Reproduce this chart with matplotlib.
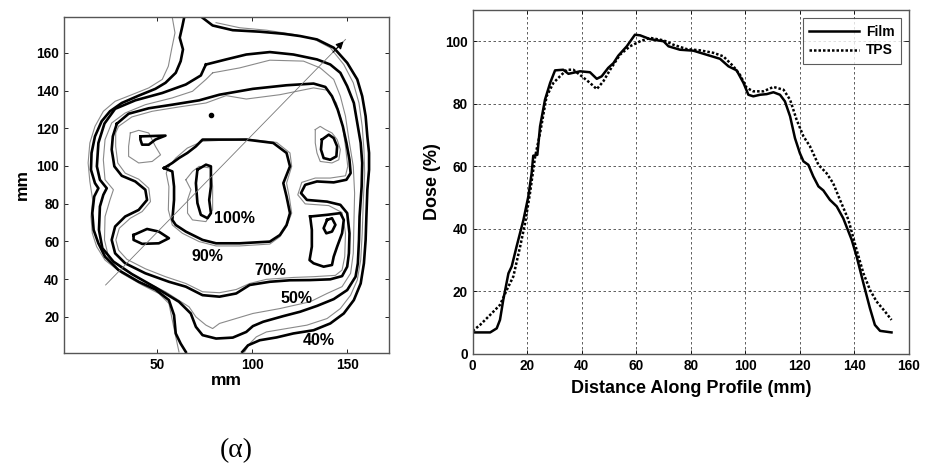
import numpy as np
import matplotlib
matplotlib.use("Agg")
import matplotlib.pyplot as plt

plt.rcParams['font.family'] = ['Liberation Sans', 'DejaVu Sans']
plt.rcParams['font.weight'] = 'bold'
plt.rcParams['axes.labelweight'] = 'bold'

# ---- dose profile along the arrow (right panel) ----
film_dist = [0, 6.4, 8.8, 10, 11.2, 13.1, 14.3, 16.1, 18.6, 20.4, 21.6, 22.2, 23.7, 24.7, 26.5,
             28.4, 30.2, 33.2, 35.1, 39.4, 43, 45.5, 47.3, 49.7, 51.6, 53.4, 56.5, 59.5, 61.4, 65,
             70, 71.8, 76, 80.9, 85.8, 90.7, 93.8, 96.8, 99.3, 101.1, 102.9, 105.4, 107.8, 110.3,
             112.7, 114.5, 116.4, 118.2, 120, 121.3, 123.1, 124.9, 126.8, 128.6, 131, 133.5, 135.9,
             139, 140.8, 143.3, 145.7, 147.5, 149.4, 153.6]
film_dose = [6.9, 6.9, 8.2, 10.9, 17.3, 25.8, 28, 34.4, 42.9, 50.4, 57.8, 63.4, 63.7, 72.8, 81.3,
             86.7, 90.7, 90.9, 89.6, 90.4, 90.1, 88, 88.8, 91.5, 93, 95.4, 98.4, 102.1, 101.9, 100.7,
             100, 98.4, 97.3, 97, 95.7, 94.4, 92, 90.7, 86.7, 82.9, 82.4, 82.9, 83.1, 83.7,
             82.9, 80.8, 76, 69, 64.2, 61.6, 60.5, 56.8, 53.6, 52.3, 49.3, 47.2, 43.4,
             36.5, 31.2, 22.6, 14.6, 9.3, 7.4, 6.9]
tps_dist = [0, 2.7, 6.4, 10, 12.5, 14.9, 17.4, 19.2, 21, 22.9, 24.7, 27.1, 29.6, 32, 34.5, 36.9,
            40, 43, 45.5, 47.9, 50.4, 54, 57.7, 61.4, 65, 70, 73.6, 78.5, 83.4, 88.3, 91.9, 95.6,
            98, 100.5, 102.9, 106.6, 110.3, 114, 116.4, 118.8, 121.3, 123.7, 126.8, 129.8, 132.2,
            134.7, 137.8, 140.8, 143.3, 145.7, 148.1, 151.2, 153.6]
tps_dose = [7.4, 9.3, 12.5, 15.7, 20.5, 24.8, 34.4, 41.8, 51.4, 63.2, 70.6, 82.4, 86.7, 88.8, 90.9,
            90.9, 88.8, 86.7, 84.7, 87.2, 90.9, 95.7, 98.4, 100, 101.1, 100.3, 98.9, 97.5, 97.1,
            96.3, 95.2, 92, 89.3, 85.1, 84, 84, 85.4, 84.5, 81.3, 74.9, 69.6, 66.4, 60.5, 57.8,
            54.6, 49.3, 42.9, 33.3, 25.8, 20.5, 16.8, 13.6, 10.9]

# ---- isodose lines (mm), film = black, TPS = grey ----
film_40_left = np.array([(64.2, 178.6), (63.3, 174.2), (61.9, 168), (63.6, 161.8), (62.4, 155.6),
    (59.8, 149.4), (54.4, 144.1), (49.1, 140.9), (40.3, 137.3), (31.4, 133.4), (25.2, 129),
    (20.8, 123.7), (17.3, 115.7), (15.5, 106.9), (15.2, 98), (17.3, 90.9), (19.1, 88.2),
    (16.9, 83.8), (15.9, 75), (16.6, 66.1), (19.1, 59), (22.6, 51.9), (29.7, 44.8), (40.3, 38.6),
    (49.1, 34.5), (56.2, 28.9), (58.9, 20.9), (59.8, 11.2), (62.4, 5.8), (65.1, 1.4)])
film_40_right = np.array([(73.9, 178.6), (79.2, 174.5), (89.8, 172), (104, 171.2), (116.4, 170.1),
    (125.2, 168.9), (134.1, 167.1), (142.9, 162.7), (150, 154.7), (155.3, 145.9), (157.9, 137),
    (159.7, 126.4), (160.6, 115.7), (161.5, 106.9), (161.5, 98), (160.6, 87.4), (160.1, 73.2),
    (159.7, 60.8), (158.8, 48.4), (157.1, 37.7), (153.5, 28.9), (148.2, 21.8), (141.1, 16.5),
    (132.3, 12.9), (121.7, 11.2), (112.9, 9.1), (104, 7.6), (97.8, 4.9), (94.8, 1.4)])
film_50 = np.array([(75.7, 153.8), (86.3, 156.5), (96.9, 159.1), (109.3, 160.4), (121.7, 159.1),
    (134.1, 156.5), (141.1, 153.8), (146.4, 149.4), (150, 142.3), (153.5, 133.4), (155.3, 122.8),
    (157.1, 112.2), (157.9, 101.6), (157.6, 89.1), (156.5, 73.2), (156.2, 60.8), (155.6, 48.4),
    (154.4, 41.3), (150, 34.2), (142.9, 29.4), (134.1, 25.8), (125.2, 22.7), (116.4, 20.4),
    (105.8, 17.4), (100.4, 15.1), (96.9, 12), (89.8, 9), (81, 8.5), (73.9, 10.3), (70.4, 14.7),
    (67.7, 21.8), (61.5, 28), (49.1, 35.6), (36.7, 42.7), (27, 49.3), (21.2, 56.4), (19.4, 66.1),
    (19.9, 78.5), (21.7, 84.7), (23.5, 88.2), (19.9, 92.7), (18.3, 99.8), (19.1, 112.2),
    (22.3, 122.5), (27.9, 130.3), (38.5, 134.8), (52.7, 138.7), (65.1, 143.2), (73, 148),
    (74.8, 152), (75.7, 153.8)])
film_70 = np.array([(28.8, 122.4), (35, 127.7), (45.6, 130.6), (58, 132.5), (72.1, 134.8),
    (82.8, 137.8), (100.4, 140.9), (118.1, 142.8), (132.3, 143.7), (138.5, 141.9), (142, 137),
    (145, 129.9), (147.7, 121), (149.6, 112.2), (151.2, 103.3), (151.8, 96.2), (149.6, 92.7),
    (142.9, 91.3), (134.1, 91.8), (127.9, 90), (125.7, 85.6), (128.8, 82), (139.4, 81.1),
    (146.4, 79.4), (150, 75), (151.2, 64.3), (150.9, 53.7), (150, 46.6), (147.3, 41.6),
    (141.1, 39.9), (130.5, 39.5), (119.9, 39.4), (109.3, 38.6), (98.7, 36.9), (91.6, 32.4),
    (82.8, 30.7), (73.9, 31.5), (65.1, 36), (56.2, 38.6), (43.8, 43.1), (33.2, 48.4),
    (27.9, 53.7), (26.1, 60.8), (27.9, 67.9), (33.2, 73.2), (40.3, 76.7), (44.7, 82),
    (43.8, 87.4), (38.5, 91.8), (31.4, 94.8), (27.5, 99.8), (26.1, 108.7), (26.7, 115.7),
    (28.8, 122.4)])
film_90 = np.array([(53.6, 98.9), (58, 97.1), (58.9, 89.1), (58.9, 82), (58, 71.4), (59.8, 68.7),
    (65.1, 65.2), (73.9, 60.8), (81, 59), (93.4, 59), (109.3, 59.9), (114.6, 63.4), (118.1, 68.7),
    (119.9, 75), (118.1, 83.8), (116.4, 90.9), (119.9, 99.8), (118.1, 106.9), (111.1, 112.2),
    (96.9, 114), (73.9, 114), (70.4, 110.4), (65.9, 106.9), (61.5, 104.2), (58, 101.6),
    (53.6, 98.9)])
film_100 = np.array([(71.2, 98), (75.7, 100.7), (78.3, 99.8), (78.3, 89.1), (77.4, 82), (78.3, 75),
    (76.5, 72.3), (73, 74.1), (71.2, 80.3), (70.4, 90.9), (71.2, 98)])
film_islands = [
    np.array([(41.2, 115.7), (54.4, 116.1), (49.1, 114), (45.6, 111.3), (42.1, 111.3), (41.2, 114),
              (41.2, 115.7)]),
    np.array([(37.6, 63.4), (44.7, 66.6), (50.9, 65.2), (56.2, 61.7), (50.9, 59), (42.1, 58.7),
              (37.6, 60.8), (37.6, 63.4)]),
    np.array([(136.7, 114), (140.3, 116.6), (142.9, 114.8), (144.7, 110.4), (144.3, 105.1),
              (141.1, 103.3), (137.6, 104.2), (136.2, 108.7), (136.7, 114)]),
    np.array([(130.5, 73.2), (139.4, 74.1), (146.4, 75), (148.2, 71.4), (147.3, 64.3),
              (144.7, 57.2), (142.9, 51.9), (142, 47.5), (137.6, 46.6), (132.3, 48.4),
              (130.2, 50.1), (131.4, 57.2), (131.4, 66.1), (130.5, 73.2)]),
    np.array([(139.4, 71.4), (142, 72.3), (143.8, 68.8), (142, 65.2), (139, 64.3), (137.6, 67),
              (139.4, 71.4)]),
]
film_spot = (78.3, 127.2)

tps_40_left = np.array([(58, 178.6), (59.4, 170.6), (57.6, 161.8), (55.9, 152.9), (52.7, 145.9),
    (45.6, 141.4), (36.7, 137.8), (27.9, 134.3), (21.7, 129), (17.3, 121), (14.6, 112.2),
    (13.7, 101.6), (14.6, 91.8), (16.1, 82), (15.2, 73.2), (15.9, 64.3), (18.2, 57.2),
    (22.6, 50.1), (31.4, 43.1), (42.1, 36.9), (50.9, 32.4), (56.2, 27.1), (58, 18.2),
    (59.8, 9.4), (61.5, 1.4)])
tps_40_right = np.array([(81, 176), (93.4, 173.3), (107.5, 172), (121.7, 169.8), (132.3, 167.4),
    (141.1, 162.7), (148.2, 153.8), (153.2, 144.1), (156.2, 133.4), (157.9, 121), (158.8, 108.7),
    (159.2, 96.2), (158.5, 82), (157.9, 64.3), (157.1, 50.1), (155.3, 39.5), (151.8, 31.5),
    (146.4, 24.4), (139.4, 19.1), (128.8, 15.6), (118.1, 13.8), (107.5, 12), (102.2, 9.4),
    (98.7, 5.8), (96, 1.4)])
tps_50 = np.array([(79.2, 149.4), (93.4, 152), (109.3, 156.1), (127, 155.6), (135.8, 152),
    (142.9, 145.9), (146.4, 137), (149.1, 126.4), (150.9, 114), (153.2, 99.8), (153.9, 85.6),
    (153.5, 67.9), (153.2, 53.7), (151.8, 43.1), (147.3, 36), (139.4, 32.4), (130.5, 28),
    (114.6, 24.4), (100.4, 21.8), (82.8, 16.5), (79.2, 13.8), (75.7, 15.6), (70.4, 20),
    (66.8, 25.3), (54.4, 33.3), (42.1, 39.5), (31.4, 45.7), (24.4, 51.9), (22.3, 60.8),
    (22.6, 73.2), (25.2, 82), (27, 87.4), (22.6, 92.7), (21.7, 103.3), (22.6, 114),
    (26.1, 122.8), (33.2, 128.1), (43.8, 132.5), (58, 136.1), (68.6, 139.6), (75.7, 145.9),
    (79.2, 149.4)])
tps_70 = np.array([(29.7, 121), (36.7, 126), (47.4, 129), (61.5, 131.3), (75.7, 133.4),
    (86.3, 137.3), (96.9, 135.5), (114.6, 137.8), (132.3, 141.4), (139.4, 140.2), (144.3, 133.4),
    (147.3, 122.8), (149.1, 110.4), (150.3, 99.8), (149.1, 94.8), (141.1, 93.6), (133.2, 93.6),
    (126.1, 91.3), (124, 84.7), (127.9, 79.9), (140.3, 79), (147.3, 75.3), (149.1, 64.3),
    (148.7, 51.9), (147.3, 44.8), (143.8, 42), (132.3, 41.3), (121.7, 40.9), (107.5, 39.9),
    (98.7, 37.7), (91.6, 34.5), (82.8, 32.8), (73.9, 33.3), (65.1, 37.7), (54.4, 41.3),
    (43.8, 45.5), (34.1, 50.5), (29.7, 55.4), (28.3, 60.8), (30.1, 67), (35.9, 72.3),
    (42.1, 75.8), (46.5, 81.1), (45.6, 88.2), (40.3, 93), (33.2, 96.2), (29.3, 101.6),
    (28.2, 110.4), (28.2, 117.5), (29.7, 121)])
tps_90 = np.array([(56.2, 99.8), (59.8, 104.2), (65.9, 109.5), (73.9, 113.1), (96.9, 114.3),
    (112.9, 112.5), (119.9, 106.9), (120.8, 99.8), (118.1, 90.9), (119.5, 83.8), (120.8, 75),
    (118.1, 67.9), (114.6, 62.5), (109.3, 58.6), (93.4, 57.6), (81, 57.6), (72.1, 59.9),
    (63.3, 64.3), (58, 68.7), (55.9, 76.7), (56.2, 89.1), (54.8, 96.2), (56.2, 99.8)])
tps_islands = [
    np.array([(65.1, 92.7), (68.6, 97.1), (72.1, 99.8), (78.3, 98.9), (79.2, 89.1), (79.2, 76.7),
              (75.7, 70.5), (68.6, 71.4), (66, 75), (66, 82), (67.8, 87.4), (65.1, 92.7)]),
    np.array([(35.9, 117.5), (40.3, 118.9), (45.6, 117.5), (49.1, 110.4), (51.8, 105.9),
              (47.4, 102.4), (40.3, 101.6), (35, 105.1), (35, 110.4), (35.9, 117.5)]),
    np.array([(133.2, 119.3), (135.8, 121), (138.5, 119.3), (142, 117.5), (144.7, 114),
              (146.4, 108.7), (145.6, 103.3), (142, 101.6), (135.8, 102.4), (134.1, 106.9),
              (133.2, 112.2), (133.2, 119.3)]),
]

profile_start = (22.9, 36.9)
profile_end = (149.1, 167.1)

level_names = ['100%', '90%', '70%', '50%', '40%']
level_x = [90.5, 76.6, 109.7, 123.5, 135]
level_y = [72.3, 51.9, 44.5, 29.8, 7.6]

fig = plt.figure(figsize=(9.26, 4.68), dpi=100)

# left: isodose map
ax1 = fig.add_axes([0.0691, 0.2464, 0.3510, 0.7173])
grey = '#8a8a8a'
for c in [tps_40_left, tps_40_right, tps_50, tps_70, tps_90] + tps_islands:
    ax1.plot(c[:, 0], c[:, 1], color=grey, lw=0.8, solid_joinstyle='round')
for c in [film_40_left, film_40_right, film_50, film_70, film_90, film_100] + film_islands:
    ax1.plot(c[:, 0], c[:, 1], color='black', lw=1.9, solid_joinstyle='round')
ax1.plot(*film_spot, 'o', color='black', ms=3)

ax1.plot([profile_start[0], profile_end[0]], [profile_start[1], profile_end[1]],
         color='#777777', lw=0.6)
head_from = (profile_end[0] - 0.06 * (profile_end[0] - profile_start[0]),
             profile_end[1] - 0.06 * (profile_end[1] - profile_start[1]))
ax1.annotate('', xy=profile_end, xytext=head_from,
             arrowprops=dict(arrowstyle='-|>', color='black', lw=0.8, mutation_scale=11))

for name, x, y in zip(level_names, level_x, level_y):
    ax1.text(x, y, name, fontsize=11.5, fontweight='bold', ha='center', va='center')

ax1.set_xlim(1, 172)
ax1.set_ylim(1, 179)
ax1.set_xticks([50, 100, 150])
ax1.set_yticks(range(20, 161, 20))
ax1.tick_params(direction='in', top=True, right=True, length=3, labelsize=9.8, width=0.6)
ax1.set_xlabel('mm', fontsize=12.5, labelpad=1)
ax1.set_ylabel('mm', fontsize=12.5, labelpad=5)
for s in ax1.spines.values():
    s.set_color('#555555')
    s.set_linewidth(1)

# right: profile comparison
ax2 = fig.add_axes([0.5105, 0.2436, 0.4711, 0.7350])
ax2.plot(film_dist, film_dose, color='black', lw=1.8, label='Film')
ax2.plot(tps_dist, tps_dose, color='black', lw=1.8, linestyle=(0, (1, 0.8)), label='TPS')
ax2.set_xlim(0, 160)
ax2.set_ylim(0, 110)
ax2.set_xticks(range(0, 161, 20))
ax2.set_yticks(range(0, 101, 20))
ax2.grid(True, color='#444444', linestyle=(0, (3, 3)), lw=0.6)
ax2.tick_params(direction='in', top=True, right=True, length=3, labelsize=9.8, width=0.6)
ax2.set_xlabel('Distance Along Profile (mm)', fontsize=13, labelpad=5)
ax2.set_ylabel('Dose (%)', fontsize=13, labelpad=3)
for s in ax2.spines.values():
    s.set_color('#555555')
    s.set_linewidth(1)
leg = ax2.legend(loc='upper right', fontsize=10, frameon=True, fancybox=False,
                 handlelength=3.6, borderaxespad=0.6, handletextpad=0.5, borderpad=0.45,
                 labelspacing=0.35)
leg.get_frame().set_edgecolor('#333333')
leg.get_frame().set_linewidth(0.8)

fig.text(236 / 926, 1 - 451 / 468, '(α)', fontsize=20, fontweight='normal',
         family=['Liberation Serif', 'DejaVu Serif'], ha='center', va='center')

fig.savefig('out.png', dpi=100)
